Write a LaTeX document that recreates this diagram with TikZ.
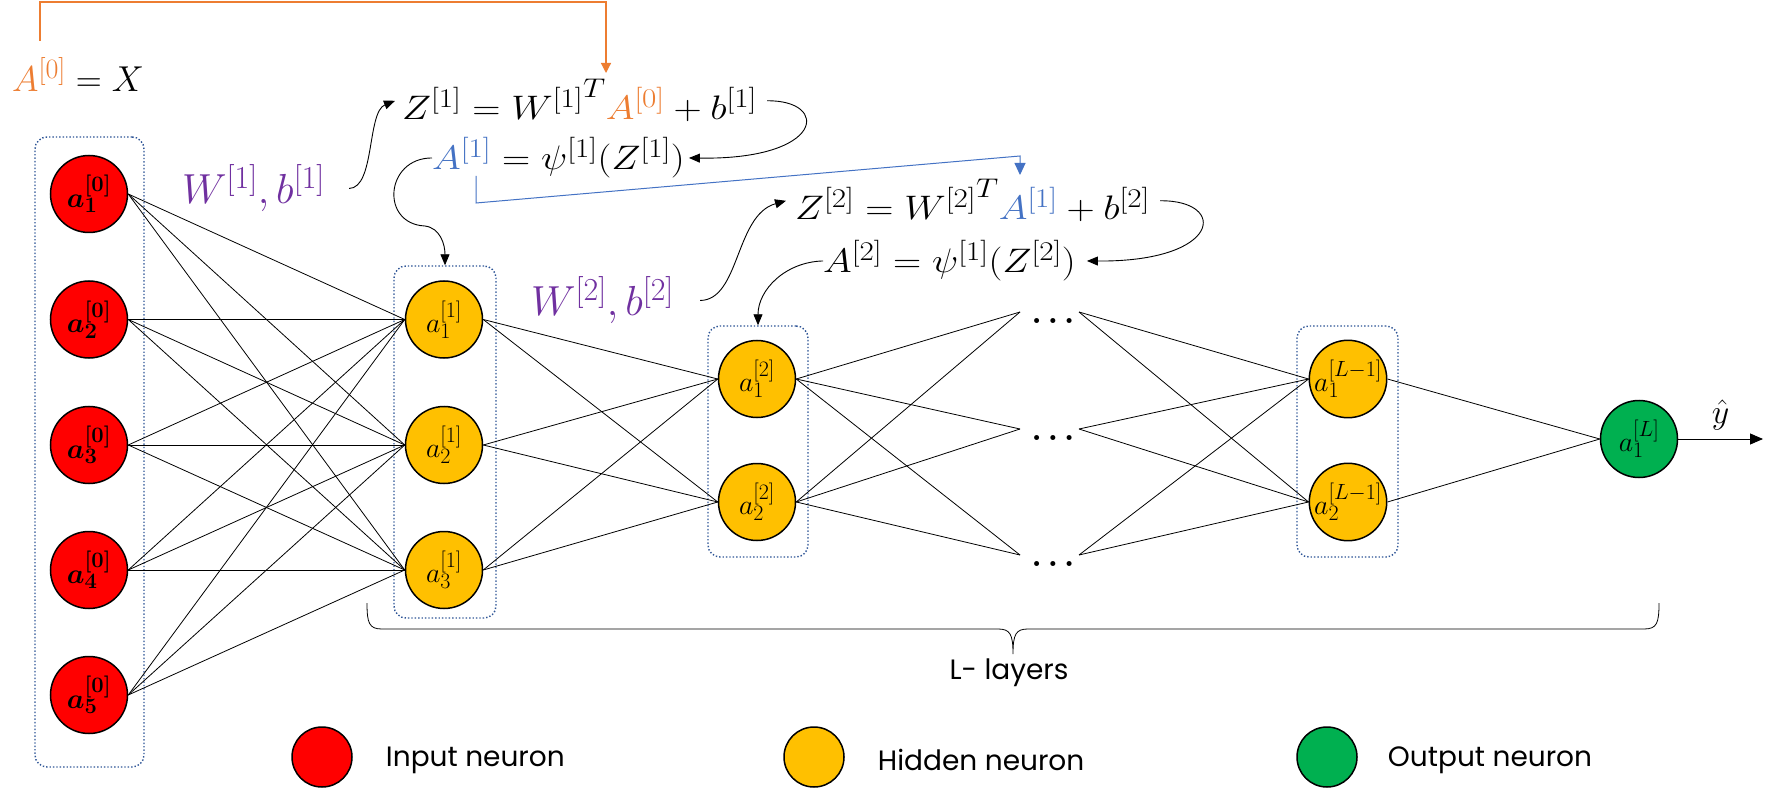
\RequirePackage{fix-cm}
\documentclass[tikz,border=0pt]{standalone}
\usepackage{bm}
\usepackage{graphicx}
\usepackage{fontspec}
\newfontfamily\legendfont{Poppins}
\usetikzlibrary{arrows.meta,positioning}

\DeclareMathSizes{28}{28}{22}{16}
\DeclareMathSizes{34}{34}{27}{20}
\DeclareMathSizes{36}{36}{28}{21}
\DeclareMathSizes{42}{42}{32}{24}

\definecolor{inred}{RGB}{255,0,0}
\definecolor{hidyel}{RGB}{255,192,0}
\definecolor{outgrn}{RGB}{0,176,80}
\definecolor{boxblue}{RGB}{47,85,151}
\definecolor{fmlorange}{RGB}{237,125,49}
\definecolor{fmlblue}{RGB}{68,114,196}
\definecolor{fmlpurple}{RGB}{112,48,160}

\newcommand{\stretchfml}[1]{\scalebox{1.15}[1]{$#1$}}

\tikzset{
    neuron/.style={circle, draw=black, line width=1.5pt, minimum size=77pt, inner sep=0pt, font=\fontsize{28}{30}\selectfont},
    inneuron/.style={neuron, fill=inred, font=\fontsize{28}{30}\selectfont\boldmath},
    hidneuron/.style={neuron, fill=hidyel},
    outneuron/.style={neuron, fill=outgrn},
    layerbox/.style={draw=boxblue, dotted, line width=1.4pt, rounded corners=12pt, inner sep=0pt},
    conn/.style={line width=0.8pt},
    fml/.style={inner sep=0pt, anchor=base west, font=\fontsize{34}{40}\selectfont},
    wlabel/.style={inner sep=0pt, anchor=base west, text=fmlpurple, font=\fontsize{42}{48}\selectfont},
    flowarrow/.style={line width=0.9pt, -{Triangle[length=11pt,width=9pt]}},
    orgline/.style={draw=fmlorange, line width=1.2pt, -{Triangle[length=10pt,width=10pt]}},
    bluline/.style={draw=fmlblue, line width=1pt, -{Triangle[length=12pt,width=11pt]}},
    dotsnode/.style={inner sep=0pt, font=\fontsize{32}{34}\selectfont\boldmath},
    legendtxt/.style={inner sep=0pt, font=\legendfont\fontsize{28}{30}\selectfont},
}

\begin{document}
\begin{tikzpicture}[x=1pt, y=-1pt]
        \path[use as bounding box, fill=white] (0,0) rectangle (1774,791);

        % 各层的虚线框
        \node[layerbox, minimum width=109pt, minimum height=630pt] (box0) at (89.5,452) {};
        \node[layerbox, minimum width=102pt, minimum height=352pt] (box1) at (445,442) {};
        \node[layerbox, minimum width=100pt, minimum height=231pt] (box2) at (758,441.5) {};
        \node[layerbox, minimum width=101pt, minimum height=231pt] (boxL) at (1347.5,441.5) {};

        % 输入层
        \foreach \i/\y in {1/194,2/319.5,3/445,4/570,5/695} {
            \node[inneuron] (in\i) at (89,\y) {$a_{\i}^{[0]}$};
        }

        % 隐藏层
        \foreach \i/\y in {1/319.5,2/445,3/570} {
            \node[hidneuron] (hA\i) at (444,\y) {$a_{\i}^{[1]}$};
        }
        \foreach \i/\y in {1/379,2/502} {
            \node[hidneuron] (hB\i) at (757,\y) {$a_{\i}^{[2]}$};
            \node[hidneuron] (hL\i) at (1348,\y) {$a_{\i}^{[L-1]}$};
        }

        % 输出层
        \node[outneuron] (out1) at (1639,439) {$a_{1}^{[L]}$};

        % 省略号
        \foreach \j/\y in {1/312,2/429,3/555} {
            \node[dotsnode] (dots\j) at (1053,\y+9) {$\ldots$};
            \coordinate (dl\j) at (1020,\y);
            \coordinate (dr\j) at (1079,\y);
        }

        % 连接线
        \foreach \i in {1,...,5} {
            \foreach \j in {1,2,3} {
                \draw[conn] (in\i.east) -- (hA\j.west);
            }
        }
        \foreach \i in {1,2,3} {
            \foreach \j in {1,2} {
                \draw[conn] (hA\i.east) -- (hB\j.west);
            }
        }
        \foreach \i in {1,2} {
            \foreach \j in {1,2,3} {
                \draw[conn] (hB\i.east) -- (dl\j);
                \draw[conn] (dr\j) -- (hL\i.west);
            }
            \draw[conn] (hL\i.east) -- (out1.west);
        }

        % 输出箭头
        \coordinate (yend) at (1763,439);
        \draw[line width=0.9pt, -{Triangle[length=13pt,width=11pt]}] (out1.east) -- (yend)
            node[midway, above=8pt, inner sep=0pt, font=\fontsize{34}{40}\selectfont] (yhat) {$\hat{y}$};

        % 公式
        \node[fml, font=\fontsize{36}{40}\selectfont] (a0) at (12,92) {${\color{fmlorange}A^{[0]}} = X$};
        \node[fml] (z1) at (402,120) {\stretchfml{Z^{[1]} = {W^{[1]}}^{T} {\color{fmlorange}A^{[0]}} + b^{[1]}}};
        \node[fml] (a1f) at (432,170) {\stretchfml{{\color{fmlblue}A^{[1]}} = \psi^{[1]}(Z^{[1]})}};
        \node[fml] (z2) at (795,220) {\stretchfml{Z^{[2]} = {W^{[2]}}^{T} {\color{fmlblue}A^{[1]}} + b^{[2]}}};
        \node[fml] (a2f) at (823,273) {\stretchfml{A^{[2]} = \psi^{[1]}(Z^{[2]})}};
        \node[wlabel] (wb1) at (182,204) {$W^{[1]}, b^{[1]}$};
        \node[wlabel] (wb2) at (531,316) {$W^{[2]}, b^{[2]}$};

        % 公式之间的箭头
        \draw[flowarrow] ([xshift=24pt]wb1.east) .. controls (375,188) and (367,112) .. ([xshift=-7pt]z1.west);
        \draw[flowarrow] ([xshift=26pt]wb2.east) .. controls (740,300) and (735,215) .. ([xshift=-9pt]z2.west);
        \draw[flowarrow] ([xshift=10pt]z1.east) .. controls (830,100) and (825,160) .. ([xshift=4pt]a1f.east);
        \draw[flowarrow] ([xshift=10pt]z2.east) .. controls (1228,200) and (1222,262) .. ([xshift=11pt]a2f.east);
        \draw[flowarrow] (a1f.west) .. controls (385,158) and (380,224) .. (425,226)
            .. controls (440,228) and (445,244) .. (box1.north);
        \draw[flowarrow] (a2f.west) .. controls (785,262) and (758,290) .. (box2.north);

        % A 的传递
        \coordinate (o0) at (40,41);
        \coordinate (o1) at (606,73);
        \draw[orgline] (o0) -- (40,2) -| (o1);
        \coordinate (b0) at (476,176);
        \coordinate (b1) at (1020,175);
        \draw[bluline] (b0) -- (476,203) -- (1020,156) -- (b1);

        % 大括号
        \draw[line width=0.8pt] (367,603) .. controls (367,623) and (369,629) .. (382,629) -- (998,629)
            .. controls (1010,629) and (1013,634) .. (1013,654)
            .. controls (1013,634) and (1016,629) .. (1028,629) -- (1644,629)
            .. controls (1657,629) and (1659,623) .. (1659,603);
        \node[legendtxt] (llabel) at (1009,673) {L- layers};

        % 图例
        \node[inneuron, minimum size=60pt] (leg1) at (322,757) {};
        \node[hidneuron, minimum size=60pt] (leg2) at (814,757) {};
        \node[outneuron, minimum size=60pt] (leg3) at (1327,757) {};
        \node[legendtxt, right=33pt of leg1, yshift=-3pt] (legtxt1) {Input neuron};
        \node[legendtxt, right=33pt of leg2, yshift=-3pt] (legtxt2) {Hidden neuron};
        \node[legendtxt, right=30pt of leg3, yshift=-3pt] (legtxt3) {Output neuron};

\end{tikzpicture}
\end{document}
